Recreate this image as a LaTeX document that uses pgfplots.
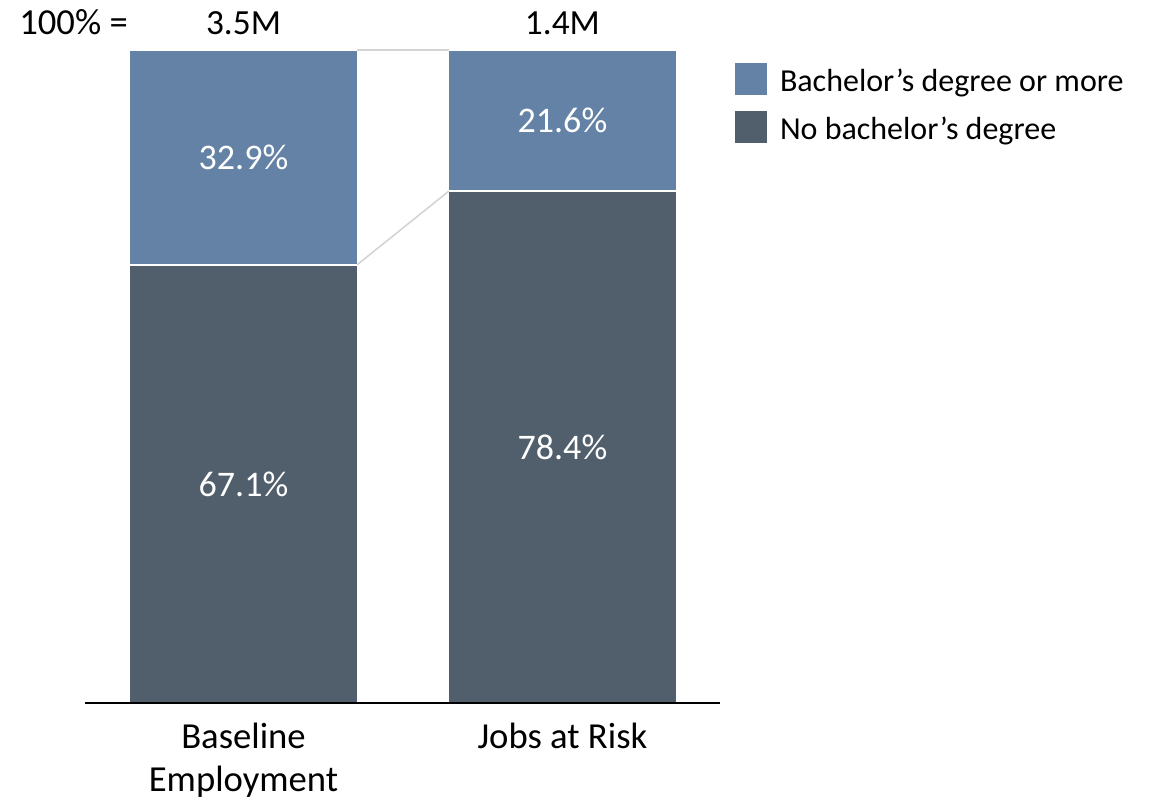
\documentclass[border=0pt]{standalone}
\usepackage{pgfplots}
\pgfplotsset{compat=1.18}
\usepackage{fontspec}
\setmainfont{Carlito}
\definecolor{topc}{HTML}{6482A5}
\definecolor{botc}{HTML}{505F6B}
\definecolor{conn}{HTML}{D4D4D4}
\begin{document}
\begin{tikzpicture}
\path[use as bounding box] (0pt,0pt) rectangle (864pt,602.25pt);
\pgfplotsset{common/.style={at={(63.75pt,75pt)}, anchor=south west, scale only axis,
  width=476.25pt, height=489.75pt, xmin=-0.497, xmax=1.494, ymin=0, ymax=100, clip=false}}
\begin{axis}[common, ybar stacked, bar width=171.75pt,
  axis y line=none, axis x line=bottom, x axis line style={-, line width=1.1pt, black},
  xtick={0,1}, major tick length=0pt,
  xticklabels={Baseline\\Employment, Jobs at Risk},
  xticklabel style={align=center, anchor=north, inner sep=0pt,
    font=\fontsize{27.5}{32.25}\selectfont, yshift=-14.75pt},
  axis on top,
  reverse legend,
  legend cell align=left,
  legend image code/.code={\fill[#1, draw=none] (0pt,-9.75pt) rectangle (24pt,14.25pt);},
  legend style={draw=none, fill=none, at={(rel axis cs:1.0236,0.9801)}, anchor=north west,
    inner sep=0pt, outer sep=0pt, font=\fontsize{24}{28}\selectfont,
    row sep=8.2pt, column sep=0pt,
    nodes={inner sep=0pt, text height=21pt, text depth=6pt},
    /tikz/every odd column/.append style={column sep=9.75pt}},
]
\addplot[fill=botc, draw=white, line width=1.5pt] coordinates {(0,67.1) (1,78.4)};
\addplot[fill=topc, draw=white, line width=1.5pt] coordinates {(0,32.9) (1,21.6)};
\legend{No bachelor’s degree, Bachelor’s degree or more}
\end{axis}
\begin{axis}[common, hide axis]
\addplot[conn, line width=1.2pt] coordinates {(0.356,100) (0.644,100)};
\addplot[conn, line width=1.2pt] coordinates {(0.356,67.1) (0.644,78.4)};
\node[text=white, font=\fontsize{27}{32}\selectfont] at (axis cs:0,33.55) {67.1\%};
\node[text=white, font=\fontsize{27}{32}\selectfont] at (axis cs:0,83.55) {32.9\%};
\node[text=white, font=\fontsize{27}{32}\selectfont] at (axis cs:1,39.2) {78.4\%};
\node[text=white, font=\fontsize{27}{32}\selectfont] at (axis cs:1,89.2) {21.6\%};
\node[anchor=base, font=\fontsize{26.5}{31}\selectfont, inner sep=0pt, yshift=11.25pt] at (axis cs:0,100) {3.5M};
\node[anchor=base, font=\fontsize{26.5}{31}\selectfont, inner sep=0pt, yshift=11.25pt] at (axis cs:1,100) {1.4M};
\node[anchor=base east, font=\fontsize{27.5}{31}\selectfont, inner sep=0pt, yshift=11.25pt] at (axis cs:-0.362,100) {100\% =};
\end{axis}
\end{tikzpicture}
\end{document}
